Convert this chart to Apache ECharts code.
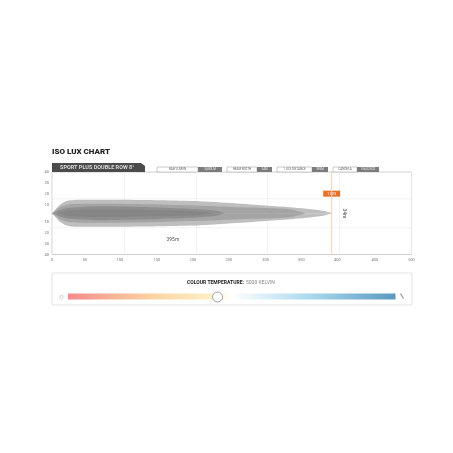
<!DOCTYPE html>
<html><head><meta charset="utf-8">
<style>html,body{margin:0;padding:0;background:#fff}#c{width:453px;height:453px}</style>
<script src="https://cdn.jsdelivr.net/npm/echarts@6/dist/echarts.min.js"></script>
</head><body><div id="c"></div>
<script>
const outerX=[0,5.6,11,18,25,39,67,95,150,206,262,331,377,390];
const outerH=[0,4.4,8.3,11.2,12.6,13.2,13.2,13.1,12.6,11.6,9.2,5.8,2.4,0];
const midX=[0,5,11,25,67,136,206,262,331,352];
const midH=[0,2.5,5.8,8.7,9.2,8.7,7.3,5.8,3.9,0];
const darkX=[0,6,11,25,67,136,192,227,240];
const darkH=[0,1.5,3.2,5.4,6.8,5.9,4.4,2.6,0];
const coreX=[8,25,67,136,192,225];
const coreH=[0,2.8,3.6,3.2,2.3,0];
const levelColors=['#bebebe','#a4a4a4','#8e8e8e','#858585'];
const xTicks=[0,46,94.5,146,196,246,297,347,397,449,500];
const yTicks=[-40,-29.5,-19,-8.3,8.3,19,29.5,40];
const yGrid=[14,-14];
const luxDistance=389;
const specs=[['RAW LUMEN','3,680LM',157,198,222],['BEAM WIDTH','34M',227,257,272],['1 LUX DISTANCE','395M',277,312,328],['CANDELA','156,025CD',333,357,379]];
const FONT='Roboto, "Open Sans", sans-serif';

function band(x,h,color,z,name){
  const mk=s=>({type:'line',name,data:x.map((v,i)=>[v,s*h[i]]),smooth:0.25,showSymbol:false,silent:true,z,
    lineStyle:{width:0},areaStyle:{color,opacity:1,origin:0}});
  return [mk(1),mk(-1)];
}
const rule=(data,color,width,z)=>({type:'line',data,showSymbol:false,silent:true,z,lineStyle:{color,width,type:'solid'},itemStyle:{color}});
const series=[
  ...yGrid.map(v=>rule([[0,v],[500,v]],'#efefef',0.7,1)),
  ...band(outerX,outerH,levelColors[0],2,'outer'),
  ...band(midX,midH,levelColors[1],3,'mid'),
  ...band(darkX,darkH,levelColors[2],4,'dark'),
  ...band(coreX,coreH,levelColors[3],5,'core'),
  Object.assign(rule([[luxDistance,-40],[luxDistance,40]],'#f0cfb2',1,6),{
   markPoint:{silent:true,animation:false,data:[{coord:[luxDistance,19],symbol:'rect',symbolSize:[17,6],itemStyle:{color:'#e8702a'},
     label:{show:true,formatter:'1 LUX',color:'#fff',fontSize:3.5,fontFamily:FONT,position:'inside'}}]}})
];
const graphic=[
  {type:'text',left:52,top:147.5,style:{text:'ISO LUX CHART',font:'900 8px '+FONT,fill:'#222'}},
  {type:'polygon',shape:{points:[[52,163],[141,163],[145,166],[145,172],[52,172]]},style:{fill:'#4b4b4b'}},
  {type:'text',left:60,top:164.6,style:{text:'SPORT PLUS DOUBLE ROW 8°',font:'bold 5.5px '+FONT,fill:'#dcdcdc'}},
  {type:'text',left:166.5,top:237.5,style:{text:'395m',font:'5px '+FONT,fill:'#555'}},
  {type:'text',x:344.5,y:213.5,rotation:-Math.PI/2,style:{text:'34m',font:'5px '+FONT,fill:'#444',align:'center',verticalAlign:'middle'}},
  {type:'rect',shape:{x:52,y:273,width:360,height:32,r:1},style:{fill:'#fff',stroke:'#dadada',lineWidth:0.8}}
];
specs.forEach(s=>{
  graphic.push({type:'rect',shape:{x:s[2],y:167,width:s[3]-s[2],height:5},style:{fill:'#fff',stroke:'#b5b5b5',lineWidth:0.7}});
  graphic.push({type:'rect',shape:{x:s[3],y:167,width:s[4]-s[3],height:5},style:{fill:'#7b7b7b'}});
  graphic.push({type:'text',x:(s[2]+s[3])/2,y:169.5,style:{text:s[0],font:'3px '+FONT,fill:'#666',align:'center',verticalAlign:'middle'}});
  graphic.push({type:'text',x:(s[3]+s[4])/2,y:169.5,style:{text:s[1],font:'3px '+FONT,fill:'#eee',align:'center',verticalAlign:'middle'}});
});
graphic.push(
  {type:'text',x:187,y:282.7,style:{text:'COLOUR TEMPERATURE:',font:'bold 5px '+FONT,fill:'#222',verticalAlign:'middle'}},
  {type:'text',x:246,y:282.7,style:{text:'5000 KELVIN',font:'5px '+FONT,fill:'#888',verticalAlign:'middle'}},
  {type:'rect',shape:{x:68,y:293.5,width:327.5,height:6},style:{fill:new echarts.graphic.LinearGradient(0,0,1,0,[
    {offset:0,color:'#f58a8c'},{offset:0.14,color:'#f9b596'},{offset:0.28,color:'#fcd7a6'},{offset:0.44,color:'#fdf0c6'},
    {offset:0.5,color:'#ffffff'},{offset:0.56,color:'#eaf6fb'},{offset:0.75,color:'#a6d6ec'},{offset:1,color:'#5a99c2'}])}},
  {type:'circle',shape:{cx:217.5,cy:297,r:5},style:{fill:'#fff',stroke:'#8a8a8a',lineWidth:0.8}},
  {type:'circle',shape:{cx:61.5,cy:297,r:1.6},style:{fill:'#fff',stroke:'#c4c4c4',lineWidth:0.7}},
  {type:'circle',shape:{cx:61.5,cy:297,r:3},style:{fill:'none',stroke:'#e0e0e0',lineWidth:0.7,lineDash:[1,1]}},
  {type:'line',shape:{x1:400.5,y1:293.5,x2:403.5,y2:298.5},style:{stroke:'#a0a0a0',lineWidth:1.4}}
);
const chart=echarts.init(document.getElementById('c'),null,{renderer:'canvas'});
chart.setOption({
  animation:false,
  backgroundColor:'#fff',
  grid:{left:52,top:172,width:359.5,height:82.5,show:true,borderColor:'#c4c4c4',borderWidth:0.8,backgroundColor:'transparent'},
  xAxis:{type:'value',min:0,max:500,
    axisLine:{show:false},axisTick:{show:false},
    splitLine:{show:true,lineStyle:{color:'#efefef',width:0.7}},
    axisLabel:{customValues:xTicks,formatter:v=>String(Math.round(v/50)*50),fontSize:4,color:'#777',fontFamily:FONT,margin:3}},
  yAxis:{type:'value',min:-40,max:40,
    axisLine:{show:false},axisTick:{show:false},splitLine:{show:false},
    axisLabel:{customValues:yTicks,formatter:v=>String(Math.ceil(Math.abs(v)/10)*10),fontSize:4,color:'#777',fontFamily:FONT,margin:3}},
  series,graphic
});
</script></body></html>
